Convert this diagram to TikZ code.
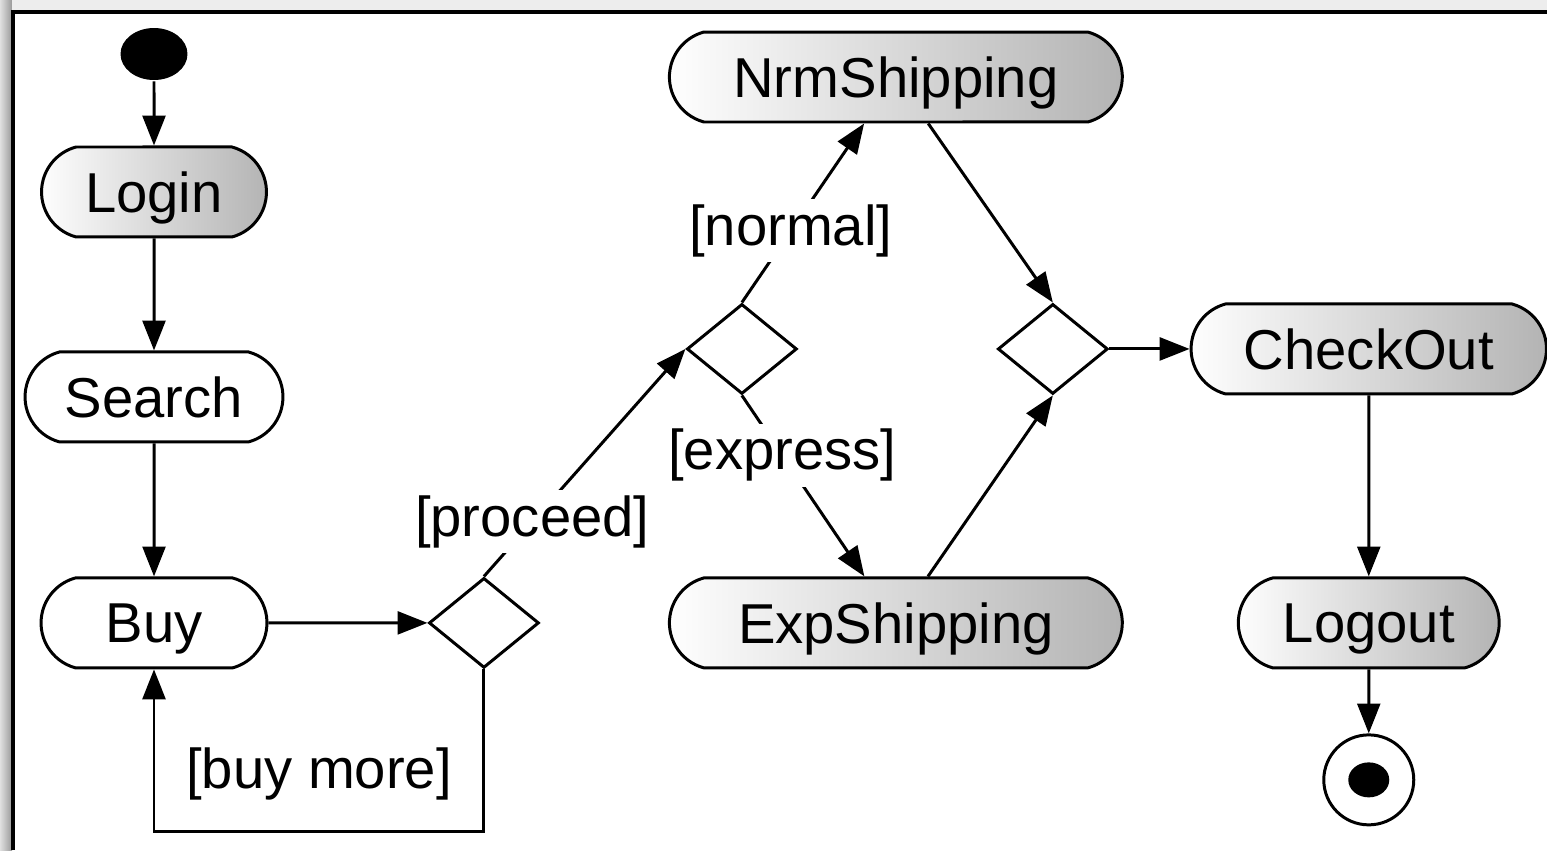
\documentclass[tikz,border=0pt]{standalone}
\usepackage{fontspec}
\setmainfont{Liberation Sans}
\usetikzlibrary{arrows.meta,positioning,shapes.geometric,shapes.misc}

\begin{document}
\begin{tikzpicture}[x=0.02cm,y=-0.02cm,on grid,line width=1.7pt,
    >={Triangle[length=17pt,width=13pt]},
    font=\fontsize{32}{38}\selectfont,
    action/.style={rounded rectangle,rounded rectangle arc length=150,draw,
      minimum height=1.8cm,inner sep=2pt,text depth=0pt},
    shadedaction/.style={action,left color=white,right color=black!30},
    branch/.style={diamond,draw,minimum width=2.2cm,minimum height=1.8cm,inner sep=0pt},
    guard/.style={fill=white,inner sep=3pt}]

  % frame with its shadow
  \useasboundingbox (0,0) rectangle (1547,850);
  \shade[left color=black!12,right color=black!40] (0,0) rectangle (12,850);
  \fill[black!7] (12,0) rectangle (1547,11);
  \draw[line width=2.5pt] (13,850) -- (13,12) -- (1547,12);

  \node[ellipse,fill,minimum width=1.34cm,minimum height=1.04cm] (start) at (154,54) {};
  \node[shadedaction,minimum width=4.64cm] (login)    [below=2.76cm of start]   {Login};
  \node[action,minimum width=5.3cm]        (search)   [below=4.1cm of login]    {Search};
  \node[action,minimum width=4.66cm]       (buy)      [below=4.52cm of search]  {Buy};
  \node[branch]                            (d1)       [right=6.6cm of buy]      {};
  \node[shadedaction,minimum width=9.2cm]  (exp)      [right=14.84cm of buy]    {ExpShipping};
  \node[shadedaction,minimum width=9.2cm]  (nrm)      [above=10.92cm of exp]    {NrmShipping};
  \node[shadedaction,minimum width=5.36cm] (logout)   [right=24.3cm of buy]     {Logout};
  \node[shadedaction,minimum width=7.25cm] (checkout) [above=5.48cm of logout]  {CheckOut};
  \node[circle,draw,minimum size=1.8cm]    (stop)     [below=3.14cm of logout]  {};
  \node[ellipse,fill,minimum width=0.82cm,minimum height=0.7cm,inner sep=0pt] (stopdot) at (stop) {};
  \node[branch]                            (d3)       [left=6.32cm of checkout] {};
  \node[branch]                            (d2)       [left=6.22cm of d3]       {};

  \path[->] (start)     edge (login)
            (login)     edge (search)
            (search)    edge (buy)
            (buy)       edge (d1)
            (d1.north)  edge node[guard,pos=0.24] {[proceed]} (d2.west)
            (d2.north)  edge node[guard,pos=0.4]  {[normal]}  (nrm)
            (d2.south)  edge node[guard,pos=0.33] {[express]} (exp)
            (nrm)       edge (d3.north)
            (exp)       edge (d3.south)
            (d3.east)   edge (checkout)
            (checkout)  edge (logout)
            (logout)    edge (stop);
  \draw[->] (d1.south) -- ++(0,-3.24cm) -| node[pos=0.25,yshift=1.14cm] {[buy more]} (buy.south);
\end{tikzpicture}
\end{document}
